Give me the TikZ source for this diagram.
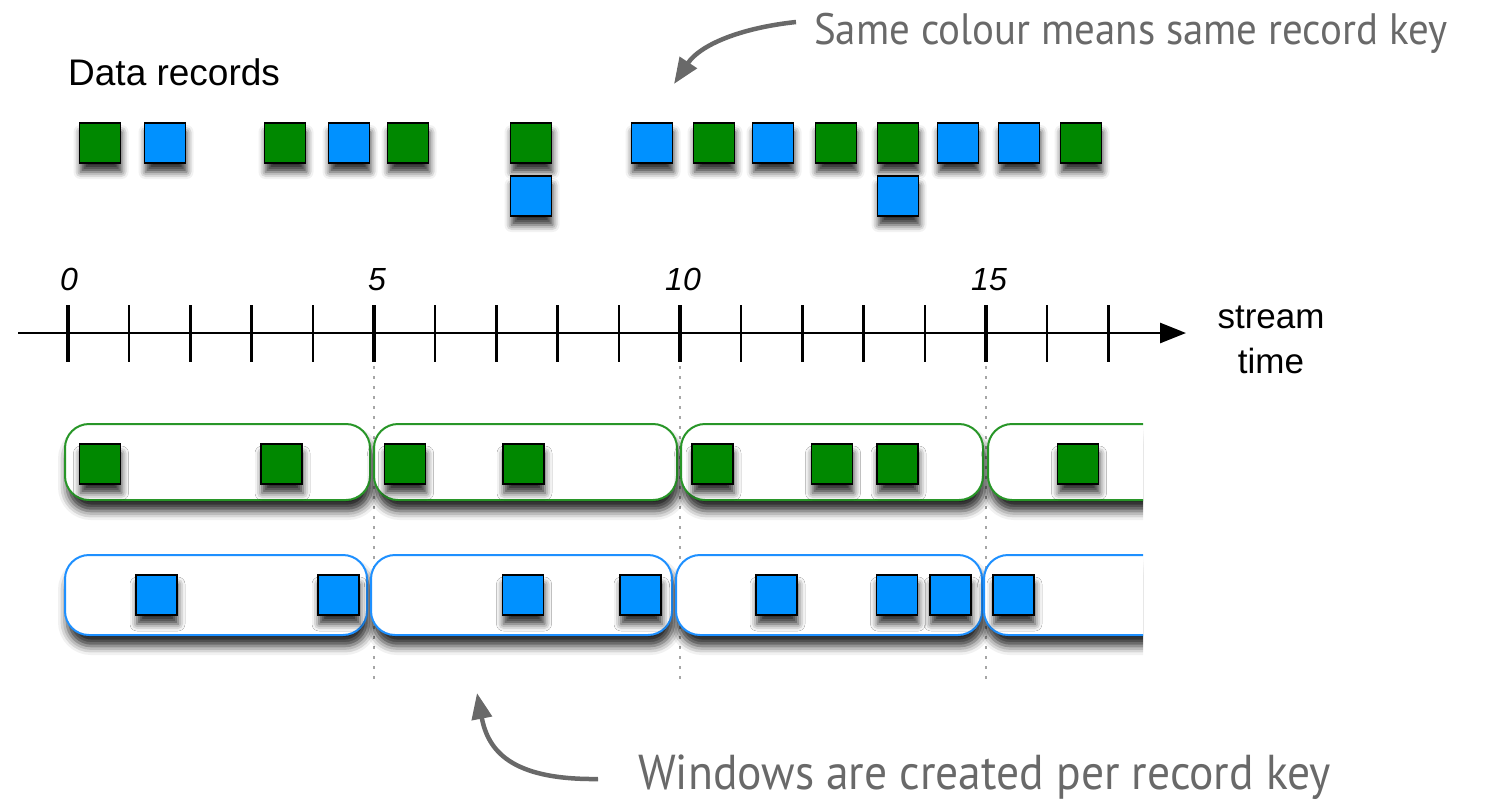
\documentclass[tikz,border=0pt]{standalone}
\usepackage{fontspec}
\setmainfont{Liberation Sans}
\newfontfamily\handfont[FakeStretch=0.93]{PT Sans}
\usetikzlibrary{arrows.meta,shadows.blur}
\definecolor{kgreen}{RGB}{0,136,0}
\definecolor{kblue}{RGB}{0,145,255}
\definecolor{wgreen}{RGB}{40,150,40}
\definecolor{wblue}{RGB}{30,144,255}
\definecolor{handgray}{RGB}{105,105,105}
\begin{document}
\begin{tikzpicture}[x=1pt,y=-1pt,
  rec/.style={rectangle, minimum width=41pt, minimum height=40pt, inner sep=0pt, draw=black, line width=1.8pt,
    blur shadow={shadow xshift=1pt, shadow yshift=-9pt, shadow blur radius=7pt, shadow opacity=80}},
  win/.style={rectangle, rounded corners=24pt, fill=white, line width=2pt, minimum height=76pt, inner sep=0pt,
    blur shadow={shadow xshift=2pt, shadow yshift=-11pt, shadow blur radius=9pt, shadow opacity=85}},
  gwin/.style={win, draw=wgreen},
  bwin/.style={win, draw=wblue, minimum height=80pt},
  minortick/.style={line width=2.4pt},
  majortick/.style={line width=3.2pt},
  guide/.style={draw=gray!70, line width=1.2pt, dash pattern=on 3pt off 7pt},
  axlabel/.style={font=\itshape\fontsize{32}{36}\selectfont, inner sep=0pt},
  txt/.style={font=\fontsize{35}{40}\selectfont, inner sep=0pt},
  hand/.style={text=handgray, inner sep=2pt},
  handarrow/.style={draw=handgray, line width=4.5pt, -{Triangle[length=26pt,width=20pt]}},
]
\useasboundingbox (0,0) rectangle (1491,804);

% title
\node[font=\fontsize{37}{40}\selectfont, inner sep=0pt, anchor=base west] (title) at (68,85) {Data records};

% top record row
\foreach \x/\c [count=\n] in {100/kgreen,165/kblue,285/kgreen,349/kblue,408/kgreen,531/kgreen,652/kblue,714/kgreen,773/kblue,836/kgreen,898/kgreen,958/kblue,1019/kblue,1081/kgreen}
  \node[rec, fill=\c] (t\n) at (\x,143) {};
\node[rec, fill=kblue] (t6b) at (531,196) {};
\node[rec, fill=kblue] (t11b) at (898,196) {};

% axis
\coordinate (axL) at (18,333);
\coordinate (axR) at (1186,333);
\draw[line width=2.8pt, -{Triangle[length=26pt,width=20pt]}] (axL) -- (axR);
\foreach \i in {1,2,3,4,6,7,8,9,11,12,13,14,16,17}
  \draw[minortick] (68+61.2*\i,305) -- (68+61.2*\i,362);
\foreach \i in {0,5,10,15}
  \draw[majortick] (68+61.2*\i,305) -- (68+61.2*\i,362);
\node[axlabel, anchor=base] (l0) at (69,290) {0};
\node[axlabel, anchor=base] (l5) at (377,290) {5};
\node[axlabel, anchor=base] (l10) at (683,290) {10};
\node[axlabel, anchor=base] (l15) at (989,290) {15};
\node[txt, anchor=base] (st1) at (1271,328) {stream};
\node[txt, anchor=base] (st2) at (1271,373) {time};

% guides
\foreach \i in {5,10,15}
  \draw[guide] (68+61.2*\i,366) -- (68+61.2*\i,682);

% windows
\node[gwin, minimum width=305pt] (gw1) at (217.5,462) {};
\node[gwin, minimum width=303pt] (gw2) at (525.5,462) {};
\node[gwin, minimum width=302pt] (gw3) at (832,462) {};
\node[bwin, minimum width=302pt] (bw1) at (216,595) {};
\node[bwin, minimum width=301pt] (bw2) at (521.5,595) {};
\node[bwin, minimum width=306pt] (bw3) at (829,595) {};
\begin{scope}
  \clip (900,380) rectangle (1143,700);
  \node[gwin, minimum width=300pt] (gw4) at (1138,462) {};
  \node[bwin, minimum width=300pt] (bw4) at (1134,595) {};
\end{scope}

% window records
\foreach \x [count=\n] in {100,281.5,405,523.5,712.5,832,897.5,1078}
  \node[rec, fill=kgreen] (g\n) at (\x,464) {};
\foreach \x [count=\n] in {156.5,338.5,523,640.5,776.5,897,950.5,1013.5}
  \node[rec, fill=kblue] (b\n) at (\x,595) {};

% annotations
\node[hand, font=\handfont\fontsize{44}{48}\selectfont, anchor=west] (ann1) at (812,33) {Same colour means same record key};
\coordinate (tip1) at (674,84);
\draw[handarrow] ([xshift=-16pt,yshift=11pt]ann1.west) .. controls (740,28) and (700,45) .. (tip1);

\node[hand, font=\handfont\fontsize{49}{53}\selectfont, anchor=west] (ann2) at (636,777) {Windows are created per record key};
\coordinate (tip2) at (477,693);
\draw[handarrow] ([xshift=-38pt,yshift=-2pt]ann2.west) .. controls (510,780) and (488,750) .. (tip2);
\end{tikzpicture}
\end{document}
